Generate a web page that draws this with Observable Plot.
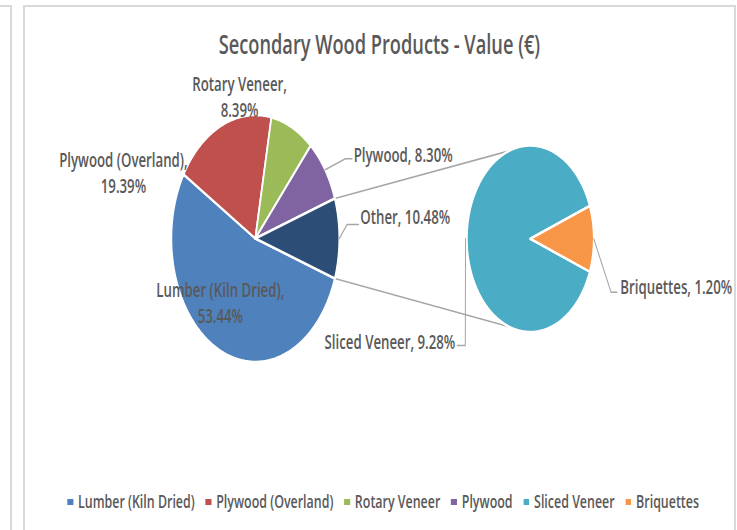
<!DOCTYPE html>
<html><head><meta charset="utf-8">
<script src="https://cdn.jsdelivr.net/npm/d3@7"></script>
<script src="https://cdn.jsdelivr.net/npm/@observablehq/plot@0.6"></script>
<style>
body{margin:0;background:#fff;width:737px;height:530px;overflow:hidden;position:relative;font-family:"Open Sans",sans-serif;}
.b{position:absolute;background:#d9d9d9;}
#wrap{position:absolute;left:0;top:0;width:1084px;height:530px;transform:scaleX(0.68);transform-origin:0 0;}
#title{position:absolute;left:0;width:1116px;top:31px;text-align:center;font-size:26.8px;line-height:26.8px;color:#595959;font-weight:600;white-space:nowrap;}
#plot{position:absolute;left:0;top:62px;}
#legend{position:absolute;left:0;width:1127px;top:492px;text-align:center;font-size:18.3px;line-height:18.3px;color:#595959;font-weight:600;white-space:nowrap;}
#legend .it{display:inline-block;margin:0 8px;}
#legend .sw{display:inline-block;width:8.6px;height:6px;margin-right:7px;vertical-align:middle;position:relative;top:-1px;}
</style></head>
<body>
<div class="b" style="left:0;top:5px;width:12px;height:2px"></div>
<div class="b" style="left:10px;top:5px;width:2px;height:525px"></div>
<div class="b" style="left:23px;top:5px;width:713px;height:2px"></div>
<div class="b" style="left:23px;top:5px;width:2px;height:525px"></div>
<div class="b" style="left:734px;top:5px;width:2px;height:525px"></div>
<div id="wrap">
  <div id="title"></div>
  <div id="plot"></div>
  <div id="legend"></div>
</div>
<script>
// ---- data ----
const titleText = "Secondary Wood Products - Value (€)";
const mainNames = ["Lumber (Kiln Dried)", "Plywood (Overland)", "Rotary Veneer", "Plywood", "Other"];
const mainValues = [53.44, 19.39, 8.39, 8.30, 10.48];
const subNames = ["Sliced Veneer", "Briquettes"];
const subValues = [9.28, 1.20];
const sliceColors = ["#4f81bd", "#c0504d", "#9bbb59", "#8064a2", "#2c4d75", "#4bacc6", "#f79646"];
const legendNames = ["Lumber (Kiln Dried)", "Plywood (Overland)", "Rotary Veneer", "Plywood", "Sliced Veneer", "Briquettes"];
const legendColors = ["#4f81bd", "#c0504d", "#9bbb59", "#8064a2", "#4bacc6", "#f79646"];

// ---- layout (natural units before horizontal squish) ----
const W = 1084, H = 408;
const main = {cx: 375, cy: 176, r: 123.5};
const sub = {cx: 779.4, cy: 176.3, r: 93.3};
const deg = Math.PI / 180;

function pieArcs(values, focus) {
  const total = d3.sum(values);
  const before = d3.sum(values.slice(0, focus));
  const offset = Math.PI / 2 - (before + values[focus] / 2) / total * 2 * Math.PI;
  return d3.pie().sort(null).startAngle(offset).endAngle(offset + 2 * Math.PI)(values);
}
const pt = (c, a, r = c.r) => ({x: c.cx + r * Math.sin(a), y: c.cy - r * Math.cos(a)});

function wedge(name, c, a0, a1) {
  const n = Math.max(2, Math.ceil((a1 - a0) / deg));
  const pts = [{name, ...pt(c, 0, 0)}];
  for (let i = 0; i <= n; i++) pts.push({name, ...pt(c, a0 + (a1 - a0) * i / n)});
  pts.push({name, ...pt(c, 0, 0)});
  return pts;
}

const mainArcs = pieArcs(mainValues, 4);
const subArcs = pieArcs(subValues, 1);
const slices = [];
mainArcs.forEach((a, i) => slices.push(...wedge(mainNames[i], main, a.startAngle, a.endAngle)));
subArcs.forEach((a, i) => slices.push(...wedge(subNames[i], sub, a.startAngle, a.endAngle)));

const mid = a => (a.startAngle + a.endAngle) / 2;
const other = mainArcs[4];
const connectors = [
  {k: "top", ...pt(main, other.startAngle)}, {k: "top", ...pt(sub, -19.5 * deg)},
  {k: "bot", ...pt(main, other.endAngle)}, {k: "bot", ...pt(sub, 199.5 * deg)}
];
const leaders = [
  {k: "ply", ...pt(main, mid(mainArcs[3]))}, {k: "ply", x: 507.4, y: 96.3}, {k: "ply", x: 517.2, y: 96.3},
  {k: "oth", ...pt(main, mid(other))}, {k: "oth", x: 509.9, y: 162}, {k: "oth", x: 526.9, y: 162},
  {k: "sli", ...pt(sub, mid(subArcs[0]), sub.r + 2)}, {k: "sli", x: 683.8, y: 283}, {k: "sli", x: 672, y: 283},
  {k: "bri", ...pt(sub, mid(subArcs[1]))}, {k: "bri", x: 898.1, y: 229.7}, {k: "bri", x: 906.9, y: 229.7}
];

const pctText = v => v.toFixed(2) + "%";
const labels = [
  {text: mainNames[2] + ",\n" + pctText(mainValues[2]), x: 351.8, y: 32.9, anchor: "middle"},
  {text: mainNames[1] + ",\n" + pctText(mainValues[1]), x: 181, y: 109.5, anchor: "middle"},
  {text: mainNames[0] + ",\n" + pctText(mainValues[0]), x: 323.5, y: 239.6, anchor: "middle"},
  {text: mainNames[3] + ", " + pctText(mainValues[3]), x: 519.6, y: 91.3, anchor: "start"},
  {text: mainNames[4] + ", " + pctText(mainValues[4]), x: 529.4, y: 153, anchor: "start"},
  {text: subNames[0] + ", " + pctText(subValues[0]), x: 669, y: 278.3, anchor: "end"},
  {text: subNames[1] + ", " + pctText(subValues[1]), x: 911.8, y: 222.7, anchor: "start"}
];
const textOpts = anchor => ({x: "x", y: "y", text: "text", textAnchor: anchor, fill: "#595959", fontSize: 19.5, fontWeight: 600, lineHeight: 1.33});

const chart = Plot.plot({
  width: W, height: H, margin: 0,
  x: {domain: [0, W], range: [0, W], axis: null},
  y: {domain: [0, H], range: [0, H], axis: null},
  color: {domain: [...mainNames, ...subNames], range: sliceColors},
  style: {fontFamily: "'Open Sans', sans-serif", background: "transparent", overflow: "visible"},
  marks: [
    Plot.line(connectors, {x: "x", y: "y", z: "k", stroke: "#a6a6a6", strokeWidth: 1.6}),
    Plot.line(slices, {x: "x", y: "y", z: "name", fill: "name", stroke: "white", strokeWidth: 2.6, strokeLinejoin: "round"}),
    Plot.line(leaders, {x: "x", y: "y", z: "k", stroke: "#a6a6a6", strokeWidth: 1.5}),
    ...["start", "middle", "end"].map(a => Plot.text(labels.filter(d => d.anchor === a), textOpts(a)))
  ]
});
document.getElementById("plot").appendChild(chart);
document.getElementById("title").textContent = titleText;
const lg = document.getElementById("legend");
legendNames.forEach((n, i) => {
  const it = document.createElement("span"); it.className = "it";
  const sw = document.createElement("span"); sw.className = "sw"; sw.style.background = legendColors[i];
  it.appendChild(sw); it.appendChild(document.createTextNode(n)); lg.appendChild(it);
});
</script>
</body></html>
